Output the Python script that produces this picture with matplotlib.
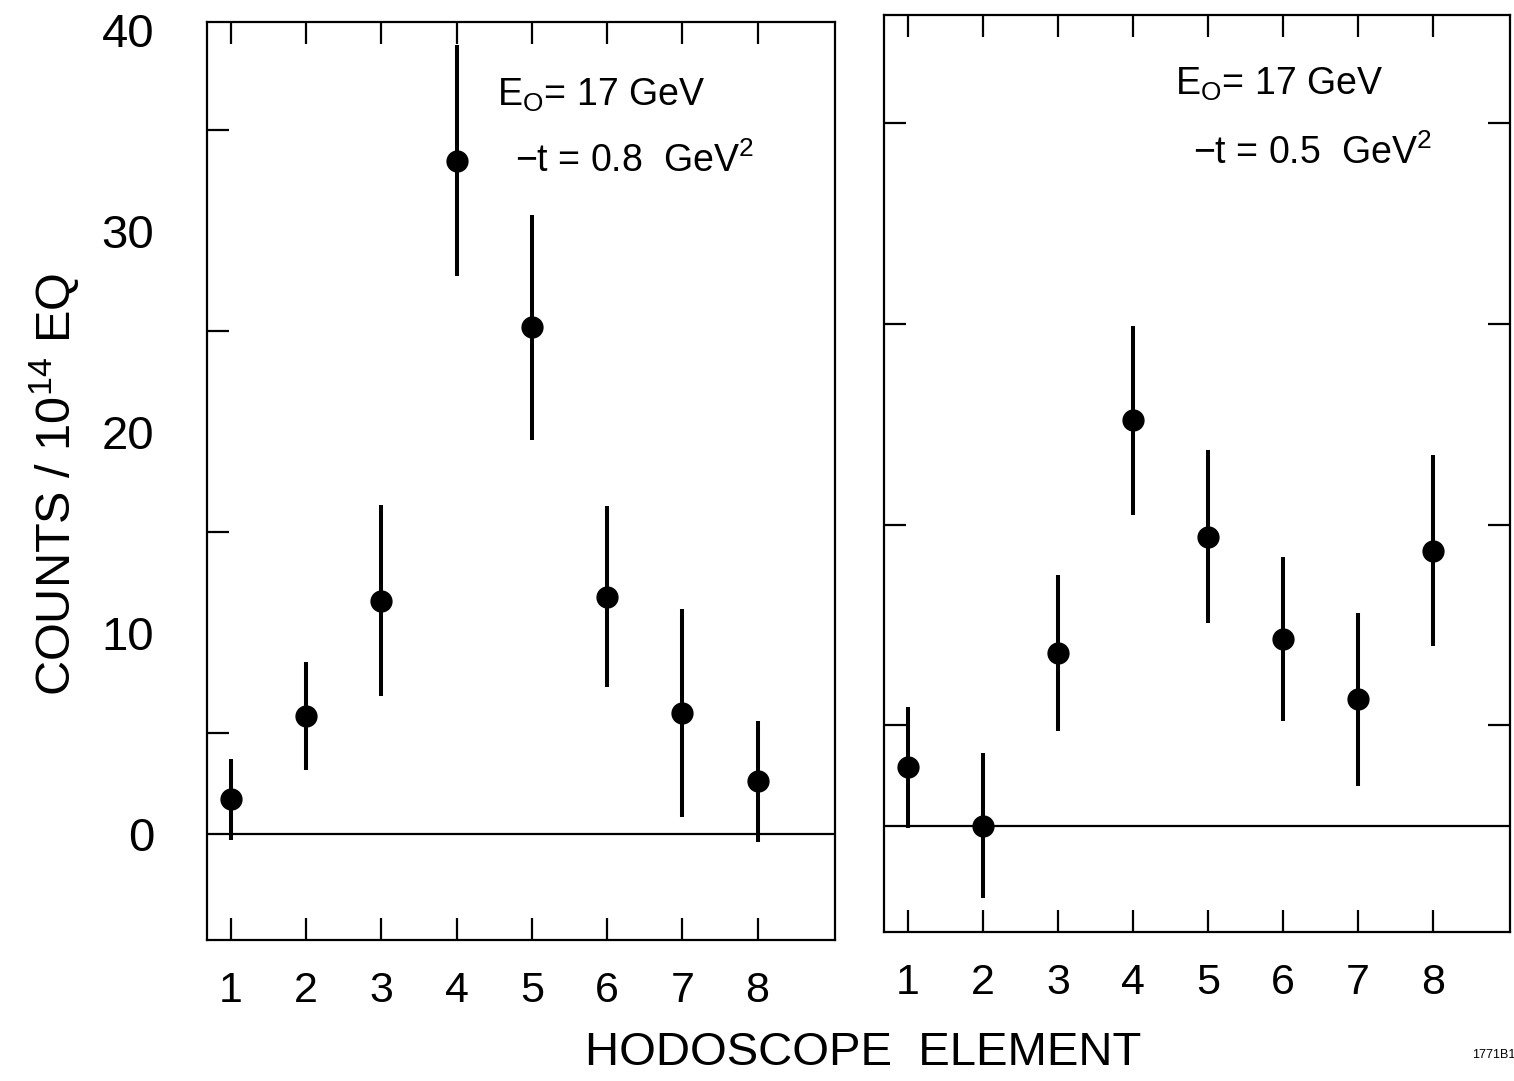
import matplotlib.pyplot as plt
import numpy as np

plt.rcParams["font.family"] = ["Liberation Sans", "DejaVu Sans"]
plt.rcParams["mathtext.default"] = "regular"

elements = np.arange(1, 9)

# -t = 0.8 GeV^2
counts_08 = [1.7, 5.85, 11.6, 33.5, 25.2, 11.8, 6.0, 2.6]
err_08 = [2.0, 2.7, 4.75, 5.75, 5.6, 4.5, 5.2, 3.0]

# -t = 0.5 GeV^2
counts_05 = [2.9, 0.0, 8.6, 20.2, 14.4, 9.3, 6.3, 13.7]
err_05 = [3.0, 3.6, 3.9, 4.7, 4.3, 4.1, 4.3, 4.75]

x_labels = ["1", "2", "3", "4", "5", "6", "7", "8"]
y_label_ticks = [0, 10, 20, 30, 40]
minor_y = [5, 10, 15, 20, 25, 30, 35]

W, H = 1514, 1081
fig = plt.figure(figsize=(W / 100, H / 100), dpi=100)

ax1 = fig.add_axes([207 / W, 1 - 940 / H, 628 / W, 918 / H])
ax2 = fig.add_axes([884 / W, 1 - 932 / H, 626 / W, 917 / H])

tick_len = 16


def draw_panel(ax, counts, errs, show_y):
    ax.errorbar(elements, counts, yerr=errs, fmt="o", color="black",
                markersize=15, elinewidth=2.9, capsize=0)
    ax.axhline(0, color="black", lw=1.6)
    ax.set_xlim(0.68, 9.03)
    ax.set_ylim(-5.3, 40.4)
    for s in ax.spines.values():
        s.set_linewidth(1.6)

    ax.set_xticks(elements)
    ax.set_xticklabels(x_labels, fontsize=31)
    ax.tick_params(axis="x", which="major", direction="in", length=tick_len,
                   width=1.6, top=True, bottom=True, pad=22)

    ax.set_yticks(y_label_ticks)
    ax.set_yticks([5, 15, 25, 35] if show_y else minor_y, minor=True)
    ax.tick_params(axis="y", which="major", length=0, pad=38, labelsize=34)
    ax.tick_params(axis="y", which="minor", direction="in", length=tick_len,
                   width=1.6, left=True, right=not show_y)
    if not show_y:
        ax.set_yticklabels([])


draw_panel(ax1, counts_08, err_08, True)
draw_panel(ax2, counts_05, err_05, False)

ax1.text(0.462, 0.909, r"E$_O$= 17 GeV", transform=ax1.transAxes, fontsize=27)
ax1.text(0.49, 0.837, r"$-$t = 0.8  GeV$^2$", transform=ax1.transAxes, fontsize=27)
ax2.text(0.465, 0.913, r"E$_O$= 17 GeV", transform=ax2.transAxes, fontsize=27)
ax2.text(0.494, 0.837, r"$-$t = 0.5  GeV$^2$", transform=ax2.transAxes, fontsize=27)

fig.text(863 / W, 1 - 1053 / H, "HODOSCOPE  ELEMENT", fontsize=34,
         ha="center", va="center")
fig.text(55 / W, 1 - 485 / H, r"COUNTS / 10$^{14}$ EQ", fontsize=35,
         rotation=90, ha="center", va="center")
fig.text(1494 / W, 1 - 1055 / H, "1771B1", fontsize=9, ha="center", va="center")

fig.savefig("out.png", dpi=100)
